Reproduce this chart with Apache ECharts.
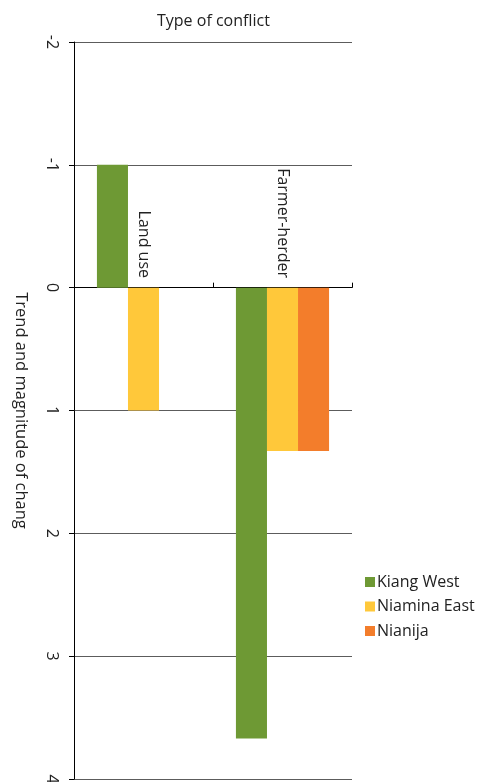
<!DOCTYPE html>
<html>
<head>
<meta charset="utf-8">
<script src="https://cdn.jsdelivr.net/npm/echarts@6/dist/echarts.min.js"></script>
<style>html,body{margin:0;padding:0;background:#fff;}#c{width:479px;height:782px;}</style>
</head>
<body>
<div id="c"></div>
<script>
const categories = ['Land use', 'Farmer-herder'];
const seriesNames = ['Kiang West', 'Niamina East', 'Nianija'];
const kiangWest = [-1, 3.67];
const niaminaEast = [1, 1.33];
const nianija = [0, 1.33];
const yTicks = [-2, -1, 0, 1, 2, 3, 4];
const colors = ['#6E9934', '#FFC83A', '#F37D2B'];

const FONT = 'Open Sans';
const chart = echarts.init(document.getElementById('c'));
const values = [kiangWest, niaminaEast, nianija];
chart.setOption({
  animation: false,
  title: {
    text: 'Type of conflict',
    left: 152, top: 8,
    textStyle: {fontFamily: FONT, fontSize: 16, fontWeight: 'normal', color: '#222'}
  },
  legend: {
    orient: 'vertical',
    left: 360, top: 569,
    itemWidth: 10, itemHeight: 10, itemGap: 8.5,
    icon: 'rect',
    textStyle: {fontFamily: FONT, fontSize: 16, lineHeight: 16, color: '#222', padding: [0, 0, 0, -3]},
    data: seriesNames
  },
  grid: {left: 74, right: 127, top: 42, bottom: 3, containLabel: false, outerBoundsMode: 'none'},
  xAxis: {
    type: 'category',
    data: categories,
    position: 'top',
    axisLine: {onZero: true, lineStyle: {color: '#000', width: 1.2}},
    axisTick: {show: true, length: 5, lineStyle: {color: '#000'}},
    axisLabel: {rotate: -90, fontFamily: FONT, fontSize: 16, color: '#222', margin: -236, padding: [6, 0, 0, 0]},
    splitLine: {show: false}
  },
  yAxis: {
    type: 'value',
    inverse: true,
    min: yTicks[0], max: yTicks[yTicks.length - 1], interval: 1,
    name: 'Trend and magnitude of chang',
    nameLocation: 'middle',
    nameRotate: -90,
    nameGap: 45,
    nameTextStyle: {fontFamily: FONT, fontSize: 16.5, color: '#222'},
    axisLine: {show: true, lineStyle: {color: '#000', width: 1}},
    axisTick: {show: true, length: 5, lineStyle: {color: '#000'}},
    axisLabel: {rotate: -90, fontFamily: FONT, fontSize: 16, color: '#222', margin: 14},
    splitLine: {show: true, lineStyle: {color: '#5c5c5c', width: 1}}
  },
  series: seriesNames.map((n, i) => ({
    name: n,
    type: 'bar',
    data: values[i],
    itemStyle: {color: colors[i]},
    barGap: '0%',
    barCategoryGap: '33%'
  }))
});
</script>
</body>
</html>
